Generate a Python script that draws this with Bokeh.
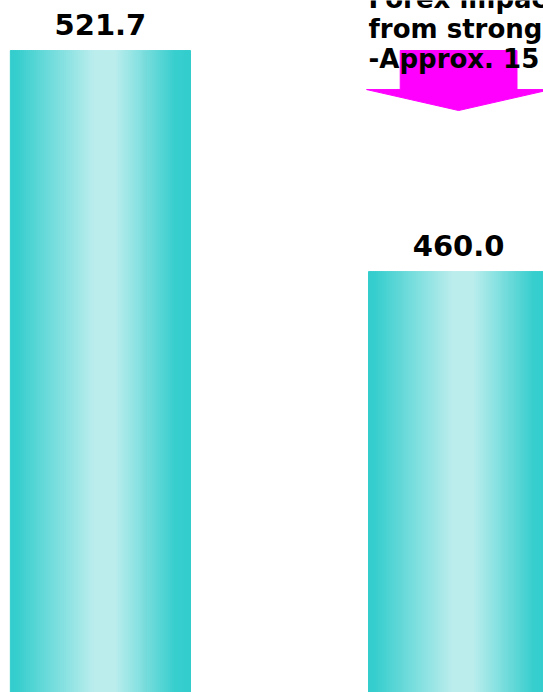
import numpy as np
from bokeh.plotting import figure
from bokeh.models import Range1d, ColumnDataSource
from bokeh.core.properties import value
from bokeh.embed import file_html
from bokeh.resources import INLINE

# ---- data ----
positions = [0, 1]
values = [521.7, 460.0]
value_labels = ["521.7", "460.0"]
note_lines = ["Forex impact", "from strong", "-Approx. 15"]

# ---- style ----
BAR_W = 0.503
DARK = np.array([51, 205, 205])
LIGHT = np.array([188, 237, 237])
prof_t = [0.0, 0.04, 0.47, 0.58, 0.92, 1.0]
prof_f = [0.0, 0.03, 1.0, 1.0, 0.03, 0.0]
N_SLICES = 90

y_start, y_end = 342.5, 535.66
p = figure(width=543, height=692,
           x_range=Range1d(-0.279, 1.237), y_range=Range1d(y_start, y_end),
           x_axis_type=None, y_axis_type=None,
           output_backend="svg", toolbar_location=None, min_border=0)
p.grid.visible = False
p.outline_line_color = None
p.background_fill_color = "white"
p.border_fill_color = "white"

# gradient bars built from slices
lefts, rights, tops, bottoms, colors = [], [], [], [], []
for xc, v in zip(positions, values):
    x0 = xc - BAR_W / 2
    dw = BAR_W / N_SLICES
    for k in range(N_SLICES):
        t = (k + 0.5) / N_SLICES
        f = np.interp(t, prof_t, prof_f)
        c = (DARK + (LIGHT - DARK) * f).round().astype(int)
        lefts.append(x0 + k * dw)
        rights.append(x0 + (k + 1) * dw)
        tops.append(v)
        bottoms.append(y_start - 20)
        colors.append("#%02x%02x%02x" % tuple(c))
src = ColumnDataSource(dict(left=lefts, right=rights, top=tops, bottom=bottoms, color=colors))
p.quad(left="left", right="right", top="top", bottom="bottom", source=src,
       fill_color="color", line_color="color", line_width=1)

# value labels
p.text(x=positions, y=values, text=value_labels, text_align="center",
       text_baseline="alphabetic", y_offset=-26,
       text_font=value("DejaVu Sans"), text_font_style="bold",
       text_font_size="29px", text_color="black")

# magenta block arrow over second bar, starting at first bar level
c = positions[1]
sh, hh = 0.163, 0.257
v0 = values[0]
head_top = v0 - 10.9
apex = v0 - 16.75
p.patch(x=[c - sh, c + sh, c + sh, c + hh, c, c - hh, c - sh],
        y=[v0, v0, head_top, head_top, apex, head_top, head_top],
        fill_color="#ff00ff", line_color="#ff00ff", line_width=1)

# note text
nx = positions[1] - BAR_W / 2
p.text(x=[nx] * 3, y=[y_end] * 3, text=note_lines, y_offset=[-2, 28, 58],
       text_align="left", text_baseline="alphabetic",
       text_font=value("DejaVu Sans"), text_font_style="bold",
       text_font_size="26px", text_color="black")

open("out.html", "w").write(file_html(p, INLINE))
